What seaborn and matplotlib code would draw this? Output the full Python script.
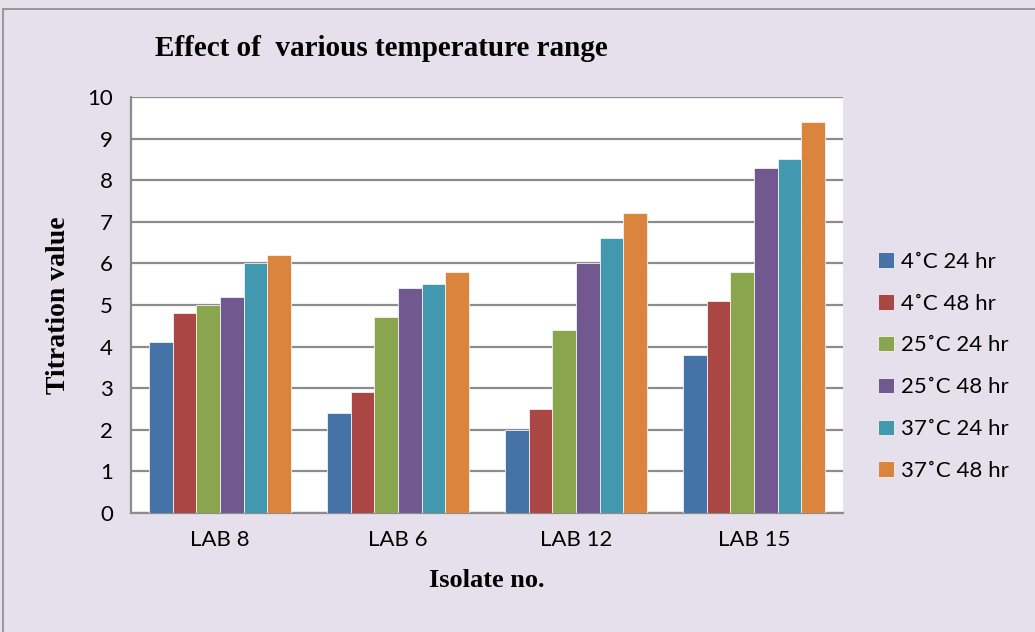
import pandas as pd
import seaborn as sns
import matplotlib.pyplot as plt
from matplotlib.patches import Rectangle

# Data
isolates = ['LAB 8', 'LAB 6', 'LAB 12', 'LAB 15']
conditions = ['4˚C 24 hr', '4˚C 48 hr', '25˚C 24 hr', '25˚C 48 hr', '37˚C 24 hr', '37˚C 48 hr']
c4_24 = [4.1, 2.4, 2.0, 3.8]
c4_48 = [4.8, 2.9, 2.5, 5.1]
c25_24 = [5.0, 4.7, 4.4, 5.8]
c25_48 = [5.2, 5.4, 6.0, 8.3]
c37_24 = [6.0, 5.5, 6.6, 8.5]
c37_48 = [6.2, 5.8, 7.2, 9.4]
yticks = list(range(0, 11))

series = [c4_24, c4_48, c25_24, c25_48, c37_24, c37_48]
rows = []
for cond, vals in zip(conditions, series):
    for iso, v in zip(isolates, vals):
        rows.append({'isolate': iso, 'condition': cond, 'value': v})
df = pd.DataFrame(rows)

colors = ['#4572A7', '#AA4643', '#89A54E', '#71588F', '#4198AF', '#DB843D']
bg = '#E6E0EC'
grid = '#8C8C8C'

sns.set_style('white')
plt.rcParams['font.family'] = ['Lato', 'DejaVu Sans']
plt.rcParams['text.color'] = 'black'
plt.rcParams['xtick.color'] = 'black'
plt.rcParams['ytick.color'] = 'black'
plt.rcParams['axes.labelcolor'] = 'black'

fig = plt.figure(figsize=(10.35, 6.32), dpi=100, facecolor=bg)
ax = fig.add_axes([0.1266, 0.1883, 0.6879, 0.6582])
ax.set_facecolor('white')

sns.barplot(data=df, x='isolate', y='value', hue='condition', order=isolates,
            hue_order=conditions, palette=colors, width=0.8, saturation=1,
            edgecolor='#f2f2f2', linewidth=0.6, ax=ax, zorder=3)

ax.set_ylim(0, 10)
ax.set_yticks(yticks)
ax.set_xlim(-0.5, 3.5)
ax.yaxis.grid(True, color=grid, linewidth=1.6, zorder=0)
ax.set_axisbelow(True)
for s in ['top', 'right']:
    ax.spines[s].set_visible(False)
for s in ['left', 'bottom']:
    ax.spines[s].set_color(grid)
    ax.spines[s].set_linewidth(1.6)
ax.tick_params(axis='y', length=7, width=1.6, color=grid, labelcolor='black', labelsize=16, pad=6)
ax.tick_params(axis='x', length=0, labelcolor='black', labelsize=16, pad=12)

ax.set_xlabel('Isolate no.', family='Liberation Serif', fontweight='bold', fontsize=19, labelpad=14)
ax.set_ylabel('Titration value', family='Liberation Serif', fontweight='bold', fontsize=20, labelpad=12)

fig.text(0.1498, 0.924, 'Effect of  various temperature range', family='Liberation Serif',
         fontweight='bold', fontsize=21, ha='left', va='center')

leg = ax.legend(loc='upper left', bbox_to_anchor=(0.838, 0.619), bbox_transform=fig.transFigure,
                frameon=False, fontsize=16, handlelength=0.68, handleheight=0.68,
                handletextpad=0.32, labelspacing=0.98, borderpad=0)

# outer chart border
fig.patches.append(Rectangle((3 / 1035, -0.01), 1.02, 1 - 9 / 632 + 0.01, transform=fig.transFigure,
                             fill=False, edgecolor='#8a8a8a', linewidth=1.2))

fig.savefig('out.png', dpi=100, facecolor=bg)
